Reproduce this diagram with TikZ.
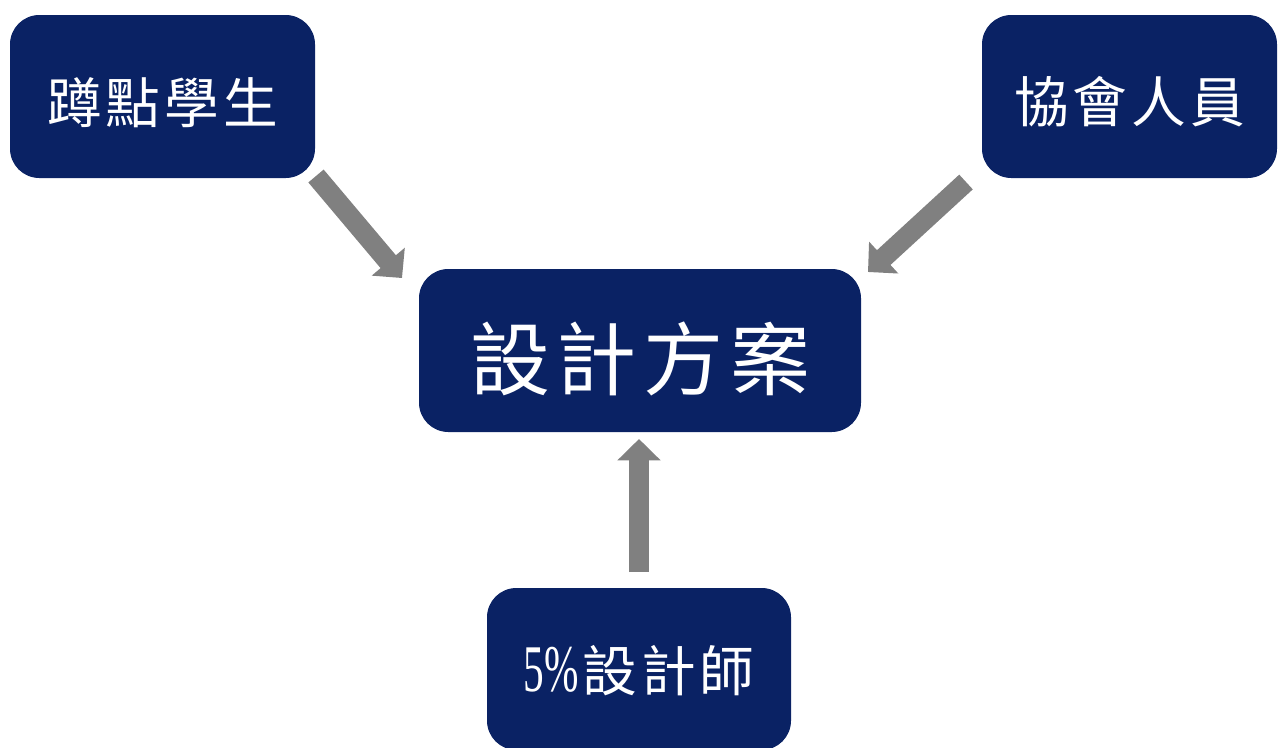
\documentclass[tikz,border=0pt]{standalone}
\usepackage{fontspec}
\newfontfamily\cjk{Noto Sans CJK TC}
\newfontfamily\latinserif{Liberation Serif}
\usetikzlibrary{arrows.meta}
\definecolor{navy}{RGB}{10,34,100}
\definecolor{arrowgray}{RGB}{128,128,128}
\newcommand{\lowertext}[2]{\raisebox{-#1}[\height][\depth]{#2}}
\tikzset{
  box/.style={fill=navy, draw=none, rounded corners=22pt, text=white, font=\cjk, inner sep=0pt},
  smalltext/.style={font=\cjk\fontsize{41}{41}\selectfont},
  bigtext/.style={font=\cjk\fontsize{60}{60}\selectfont},
  flow/.style={draw=arrowgray, line width=15pt, line cap=butt,
    -{Triangle[width=31.5pt,length=16pt]}}
}
\begin{document}
\begin{tikzpicture}[x=0.75pt,y=-0.75pt]
\useasboundingbox (0,0) rectangle (1279,747);
\node[box, smalltext, minimum width=228.75pt, minimum height=122.25pt] (tl) at (162.5,96.5) {\lowertext{4.5pt}{蹲\hspace{3pt}點\hspace{3pt}學\hspace{3pt}生}};
\node[box, smalltext, minimum width=221.25pt, minimum height=122.25pt] (tr) at (1129.5,96.5) {\lowertext{4pt}{協\hspace{3pt}會\hspace{3pt}人\hspace{3pt}員}};
\node[box, bigtext, minimum width=331.5pt, minimum height=122.25pt] (c) at (640,350.5) {\lowertext{6.5pt}{設\hspace{5pt}計\hspace{5pt}方\hspace{5pt}案}};
\node[box, smalltext, minimum width=228pt, minimum height=121.5pt] (b) at (639,669) {\lowertext{1pt}{\scalebox{0.62}[1]{\latinserif\fontsize{50}{50}\selectfont 5\%}\hspace{3pt}設\hspace{3pt}計\hspace{3pt}師}};
\coordinate (l1) at (316,176);
\coordinate (l2) at (402,278);
\coordinate (r1) at (966,182);
\coordinate (r2) at (868,272);
\coordinate (b1) at (639,572);
\coordinate (b2) at (639,439);
\draw[flow] (l1) -- (l2);
\draw[flow] (r1) -- (r2);
\draw[flow] (b1) -- (b2);
\end{tikzpicture}
\end{document}
